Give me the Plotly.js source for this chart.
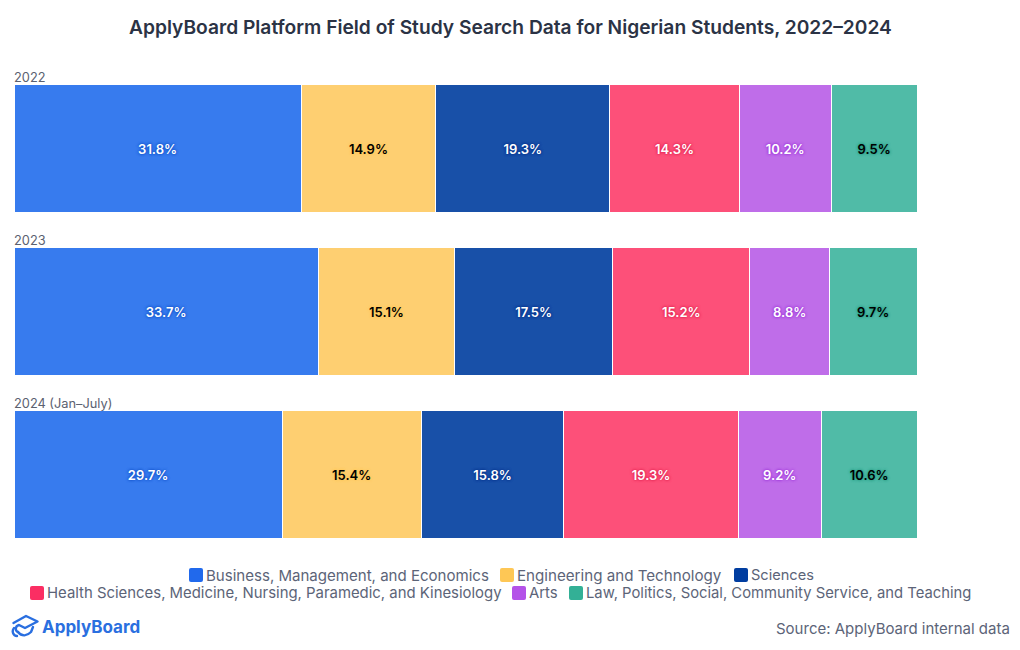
<!DOCTYPE html>
<html><head><meta charset="utf-8">
<script src="https://cdn.plot.ly/plotly-3.0.1.min.js"></script>
<style>html,body{margin:0;padding:0;background:#fff}#c{width:1020px;height:650px}</style></head>
<body><div id="c"></div>
<script>
const FONT = 'Inter, "Noto Sans", sans-serif';
const years = ['2022', '2023', '2024 (Jan–July)'];
const fields = ['Business, Management, and Economics','Engineering and Technology','Sciences','Health Sciences, Medicine, Nursing, Paramedic, and Kinesiology','Arts','Law, Politics, Social, Community Service, and Teaching'];
const business = [31.8, 33.7, 29.7];
const engineering = [14.9, 15.1, 15.4];
const sciences = [19.3, 17.5, 15.8];
const health = [14.3, 15.2, 19.3];
const arts = [10.2, 8.8, 9.2];
const law = [9.5, 9.7, 10.6];
const seriesValues = [business, engineering, sciences, health, arts, law];
const barColors = ['#377bee','#fecf71','#1850a8','#fd5079','#bf6de9','#50bba7'];
const swatchColors = ['#2169ec','#fec755','#003da0','#fb2e63','#b452e8','#33b096'];
const labelColors = ['#ffffff','#000000','#ffffff','#ffffff','#ffffff','#000000'];
const labelShadows = ['#0f4fc8','#fec755','#002f8a','#e0204f','#9a30d8','#239a80'];
const W = 1020, H = 650, L = 14, R = 103, T = 67, B = 94;
const PW = W-L-R, PH = H-T-B;
const legendSpots = [[189,575],[500,575],[734,575],[30,593],[512,593],[569,593]];
const legendSizes = [15.05,15.15,14.6,14.9,14.9,14.8];

const traces = fields.map((name,i)=>({
  type:'bar', orientation:'h', name, y:years, x:seriesValues[i],
  marker:{color:barColors[i], line:{color:'#ffffff', width:1}},
  text:seriesValues[i].map(v=>v.toFixed(1)+'%'),
  textposition:'inside', insidetextanchor:'middle', constraintext:'none',
  textangle:0,
  textfont:{family:FONT, size:13, weight:600, color:labelColors[i], shadow:`0px 0px 3px ${labelShadows[i]}, 0px 0px 3px ${labelShadows[i]}`},
  hoverinfo:'name+x', showlegend:false
}));

const px = x=>(x-L)/PW, py = y=>1-(y-T)/PH;
const annotations = [];
const ann = (text,x,y,anchor,size,color,weight)=>annotations.push({text,xref:'paper',yref:'paper',x:px(x),y:py(y),
  xanchor:anchor,yanchor:'middle',showarrow:false,borderpad:0,font:{family:FONT,size,color,weight:weight||400}});
years.forEach((y,i)=>annotations.push({text:y,xref:'paper',yref:'y',x:0,y:i,xanchor:'left',yanchor:'bottom',xshift:-1,yshift:62.5,
  showarrow:false,borderpad:0,font:{family:FONT,size:12.8,color:'#5b6170'}}));
const shapes = [];
fields.forEach((f,i)=>{
  const [x,y]=legendSpots[i];
  ann(f,x+16,y,'left',legendSizes[i],'#5c6478');
  const a=px(x),b=px(x+14),t=py(y-7),u=py(y+7),rx=2/PW,ry=2/PH;
  shapes.push({type:'path',xref:'paper',yref:'paper',line:{width:0},fillcolor:swatchColors[i],
    path:`M${a+rx},${t} L${b-rx},${t} Q${b},${t} ${b},${t-ry} L${b},${u+ry} Q${b},${u} ${b-rx},${u} L${a+rx},${u} Q${a},${u} ${a},${u+ry} L${a},${t-ry} Q${a},${t} ${a+rx},${t} Z`});
});
ann('Source: ApplyBoard internal data',1011,628,'right',15,'#5c6478');
ann('ApplyBoard',41,626.5,'left',17,'#2a6fe0',700);
ann('ApplyBoard Platform Field of Study Search Data for Nigerian Students, 2022–2024',510,27,'center',19.2,'#2b3345',600);

const logo = `<svg xmlns="http://www.w3.org/2000/svg" viewBox="0 0 28 24"><g fill="none" stroke="#2a6fe0" stroke-width="2.4" stroke-linecap="round" stroke-linejoin="round"><path d="M2.5 9 L15 2 L26.5 7.5 L14 14 L8 11 C4 12 4 17 7 18"/><path d="M7 18 C11 23 16 22 20 18 L22 13"/><path d="M3 14 C0.5 17 2 22 6 22"/></g></svg>`;
const layout = {
  width:W, height:H, paper_bgcolor:'#fff', plot_bgcolor:'#fff', barmode:'stack', bargap:0.215,
  margin:{l:L,r:R,t:T,b:B,pad:0},
  xaxis:{range:[0,100],visible:false,fixedrange:true},
  yaxis:{type:'category',categoryorder:'array',categoryarray:years,range:[2.5,-0.5],visible:false,fixedrange:true},
  annotations, shapes,
  images:[{source:'data:image/svg+xml;base64,'+btoa(logo),xref:'paper',yref:'paper',x:px(11),y:py(614),sizex:28/PW,sizey:24/PH,xanchor:'left',yanchor:'top',sizing:'stretch',layer:'above'}]
};
Plotly.newPlot('c',traces,layout,{displayModeBar:false,staticPlot:true});
</script></body></html>
